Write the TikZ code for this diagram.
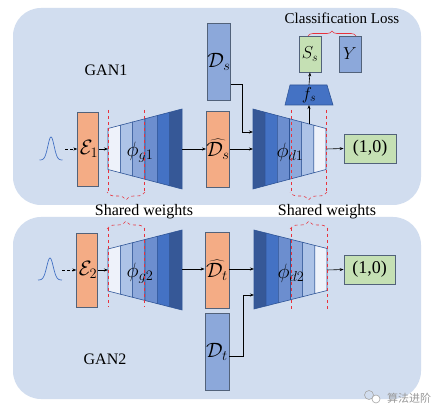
\documentclass[tikz,border=0pt]{standalone}
\usepackage{fontspec}
\setmainfont{Liberation Serif}
\newfontfamily\cjkfont{Noto Sans CJK SC}
\usetikzlibrary{arrows.meta,calc,decorations.pathreplacing}
\definecolor{panel}{HTML}{D1DDEF}
\definecolor{orangebox}{HTML}{F4AC85}
\definecolor{bluebox}{HTML}{8CA8DA}
\definecolor{greenbox}{HTML}{C5E0B4}
\definecolor{boxedge}{HTML}{52627A}
\definecolor{sA}{HTML}{EEF2FA}
\definecolor{sB}{HTML}{ADC3E7}
\definecolor{sC}{HTML}{8EA9DB}
\definecolor{sD}{HTML}{6C8ECF}
\definecolor{sE}{HTML}{4472C4}
\definecolor{sF}{HTML}{365897}
\definecolor{stripedge}{HTML}{2F5597}
\definecolor{brred}{HTML}{E8323C}
\newcommand\trapz[7]{%
  \coordinate (#7TL) at (#1,#3-#4);
  \coordinate (#7TR) at (#2,#3-#5);
  \coordinate (#7BL) at (#1,#3+#4);
  \coordinate (#7BR) at (#2,#3+#5);
  \foreach \i/\c in {#6} {
    \pgfmathsetmacro\ta{\i/6}
    \pgfmathsetmacro\tb{(\i+1)/6}
    \filldraw[fill=\c, draw=stripedge, line width=0.6pt]
      ($(#7TL)!\ta!(#7TR)$) -- ($(#7TL)!\tb!(#7TR)$) --
      ($(#7BL)!\tb!(#7BR)$) -- ($(#7BL)!\ta!(#7BR)$) -- cycle;
  }
}
\begin{document}
\begin{tikzpicture}[x=1pt,y=-1pt,
  panelbox/.style={fill=panel, draw=none, rounded corners=28pt},
  obox/.style={draw=boxedge, line width=0.8pt, fill=orangebox, inner sep=0pt, minimum width=21pt, minimum height=75pt, font=\fontsize{20.74}{24}\selectfont},
  bbox/.style={draw=boxedge, line width=0.8pt, fill=bluebox, inner sep=0pt, minimum width=23pt, minimum height=77pt, font=\fontsize{20.74}{24}\selectfont},
  gbox/.style={draw=boxedge, line width=0.8pt, fill=greenbox, inner sep=0pt},
  arr/.style={-{Stealth[length=4pt,width=3pt]}, line width=0.6pt, black},
  darr/.style={arr, densely dashed},
  reddash/.style={brred, dashed, line width=0.6pt},
  redbrace/.style={brred, dashed, line width=0.6pt, decorate, decoration={brace, amplitude=8pt}},
  lbl/.style={font=\fontsize{16}{18}\selectfont, inner sep=0pt},
  mlbl/.style={font=\fontsize{20.74}{24}\selectfont, inner sep=0pt},
  gauss/.style={draw=sE, line width=0.7pt}
]
\useasboundingbox (0,0) rectangle (445,417);
\fill[white] (0,0) rectangle (445,417);
% panels
\fill[panelbox] (13,8) rectangle (421,205);
\fill[panelbox] (13,217) rectangle (421,399);

% ===== GAN1 =====
\node[lbl] (gan1) at (106,70) {GAN1};
\draw[gauss, domain=-1:1, samples=50] plot ({51+\x*11.5},{160-23*exp(-(\x*2.6)^2)});
\coordinate (g1tail) at (65,149);
\node[obox, minimum width=18pt, minimum height=74pt] (e1) at (88,149) {\hspace*{2pt}$\mathcal{E}_1$};
\draw[darr] (g1tail) -- (e1.west);
% generator 1
\trapz{108}{182}{149}{20.5}{40}{0/sA,1/sB,2/sC,3/sD,4/sE,5/sF}{G1}
\coordinate (G1in) at (108,149);
\coordinate (G1out) at (182,149);
\node[mlbl] (phig1) at (140,152) {$\phi_{g1}$};
\draw[arr] (e1.east) -- (G1in);
% data boxes
\node[obox, minimum width=23pt, minimum height=76pt] (dhs) at (218,149) {$\widehat{\mathcal{D}_s}$};
\node[bbox] (ds) at (219,61.5) {$\mathcal{D}_s$};
\draw[arr] (G1out) -- (dhs.west);
% discriminator 1
\trapz{253}{326}{149}{40}{20.5}{0/sF,1/sE,2/sD,3/sC,4/sB,5/sA}{D1}
\coordinate (D1in) at (253,149);
\coordinate (D1ina) at (253,132);
\coordinate (D1out) at (326,149);
\coordinate (D1top) at (309,124.5);
\node[mlbl] (phid1) at (290,152) {$\phi_{d1}$};
\draw[arr] (dhs.east) -- (D1in);
\draw[arr] ($(ds.south east)+(0,-16)$) -| (242,132) -- (D1ina);
% output 1
\node[gbox, minimum width=52pt, minimum height=29pt, font=\fontsize{18}{20}\selectfont] (out1) at (370,148.5) {(1,0)};
\draw[arr] (D1out) -- (out1.west);
% f_s
\filldraw[fill=sE, draw=stripedge, line width=0.6pt] (285,105) -- (290,85) -- (327,85) -- (333,105) -- cycle;
\node[font=\fontsize{17.28}{20}\selectfont, inner sep=0pt] (fs) at (309,95) {$f_s$};
\coordinate (fsb) at (309,105);
\coordinate (fst) at (309,85);
\draw[arr] (D1top) -- (fsb);
% S_s and Y
\node[gbox, minimum width=22pt, minimum height=36pt, font=\fontsize{17.28}{20}\selectfont] (ss) at (310,54) {$S_s$};
\node[bbox, minimum width=22pt, minimum height=36pt, font=\fontsize{17.28}{20}\selectfont] (yy) at (350,54) {$Y$};
\draw[arr] (fst) -- (ss.south);
\draw[brred, line width=0.6pt, decorate, decoration={brace, amplitude=5pt}] (308,36) -- (356,36);
\node[font=\fontsize{15}{17}\selectfont, inner sep=0pt] (closs) at (342,18) {Classification Loss};
% shared weights lines (top)
\draw[reddash] (108,110) -- (108,193);
\draw[reddash] (144,110) -- (144,193);
\draw[redbrace] (145,192) -- (107,192);
\draw[reddash] (291,110) -- (291,193);
\draw[reddash] (326,110) -- (326,193);
\draw[redbrace] (327,192) -- (290,192);
\node[lbl] (sw1) at (144,212) {Shared weights};
\node[lbl] (sw2) at (327,212) {Shared weights};

% ===== GAN2 =====
\node[lbl] (gan2) at (105,359) {GAN2};
\draw[gauss, domain=-1:1, samples=50] plot ({50+\x*12},{280-22*exp(-(\x*2.6)^2)});
\coordinate (g2tail) at (62,270);
\node[obox, minimum width=18pt, minimum height=74pt] (e2) at (87,270) {\hspace*{2pt}$\mathcal{E}_2$};
\draw[darr] (g2tail) -- (e2.west);
\trapz{108}{182}{270}{21}{40}{0/sA,1/sB,2/sC,3/sD,4/sE,5/sF}{G2}
\coordinate (G2in) at (108,270);
\coordinate (G2out) at (182,269);
\node[mlbl] (phig2) at (140,273) {$\phi_{g2}$};
\draw[arr] (e2.east) -- (G2in);
\node[obox, minimum width=24pt, minimum height=76pt] (dht) at (217,270) {$\widehat{\mathcal{D}_t}$};
\node[bbox, minimum width=24pt] (dt) at (217,351.5) {$\mathcal{D}_t$};
\draw[arr] (G2out) -- (G2out -| dht.west);
\trapz{254}{327}{269.5}{39.5}{21}{0/sF,1/sE,2/sD,3/sC,4/sB,5/sA}{D2}
\coordinate (D2in) at (254,269);
\coordinate (D2inb) at (254,295);
\coordinate (D2out) at (327,270);
\node[mlbl] (phid2) at (291,273) {$\phi_{d2}$};
\draw[arr] (dht.east |- D2in) -- (D2in);
\draw[arr] ($(dt.east)+(0,4.5)$) -| (243,295) -- (D2inb);
\node[gbox, minimum width=51pt, minimum height=29pt, font=\fontsize{18}{20}\selectfont] (out2) at (369.5,269.5) {(1,0)};
\draw[arr] (D2out) -- (out2.west);
% shared weights lines (bottom)
\draw[reddash] (108,228) -- (108,307);
\draw[reddash] (144,228) -- (144,307);
\draw[redbrace] (107,229) -- (145,229);
\draw[reddash] (291,228) -- (291,309);
\draw[reddash] (327,228) -- (327,309);
\draw[redbrace] (290,229) -- (328,229);

% watermark
\draw[gray!70, line width=0.6pt] (369,395) circle (4.5pt);
\draw[gray!70, line width=0.6pt, fill=white] (376,399) circle (4pt);
\node[font=\cjkfont\fontsize{11}{12}\selectfont, text=gray!80, inner sep=0pt] (wm) at (409,398) {算法进阶};
\end{tikzpicture}
\end{document}
